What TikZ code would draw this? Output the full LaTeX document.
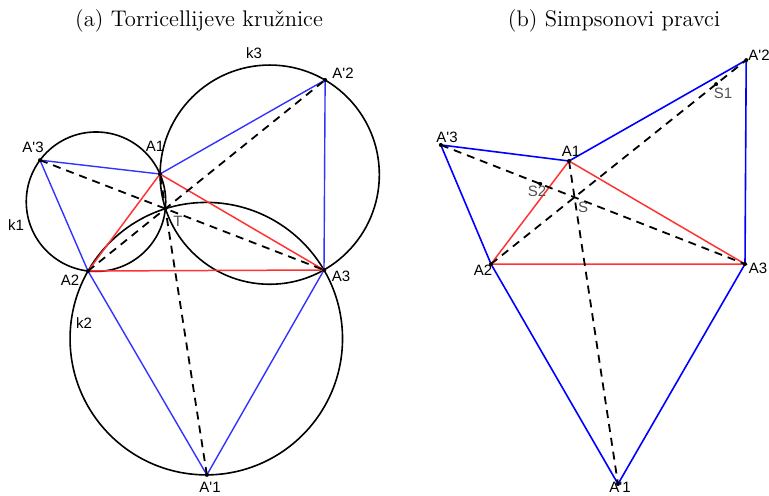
\documentclass[tikz,border=0pt]{standalone}
\usepackage{fontspec}
\newfontfamily\oznakefont{Liberation Sans}
\usetikzlibrary{calc}
\definecolor{Crvena}{HTML}{FF3333}
\definecolor{PlavaA}{HTML}{3333FF}
\definecolor{PlavaB}{HTML}{0000FF}
\definecolor{Siva}{HTML}{505050}
\tikzset{
    naslov/.style={font=\fontsize{11.3}{13}\selectfont, inner sep=0pt},
    oznaka/.style={font=\oznakefont\fontsize{7.5}{8}\selectfont, inner sep=0pt, text=black},
    sivaoznaka/.style={oznaka, text=Siva},
    krug/.style={draw=black, line width=0.8pt},
    stranica/.style={draw=Crvena, line width=0.75pt},
    plavaA/.style={draw=PlavaA, line width=0.7pt},
    plavaB/.style={draw=PlavaB, line width=0.8pt},
    pravac/.style={draw=black, line width=0.9pt, dash pattern=on 4pt off 3pt},
    tocka/.style={fill=black},
}

\begin{document}
\begin{tikzpicture}[x=0.5pt, y=0.5pt]
    \useasboundingbox (0,0) rectangle (769,495);

    % Naslovi
    \node[naslov] (naslovA) at (199,474) {(a) Torricellijeve kružnice};
    \node[naslov] (naslovB) at (614,474) {(b) Simpsonovi pravci};

    % (a) Trokut i vrhovi jednakostranicnih trokuta
    \coordinate (A1) at (160,321);
    \coordinate (A2) at (88,224);
    \coordinate (A3) at (324,225);
    \coordinate (A1p) at ($(A2)!1!-60:(A3)$);
    \coordinate (A2p) at ($(A1)!1!60:(A3)$);
    \coordinate (A3p) at ($(A2)!1!60:(A1)$);
    \coordinate (T) at (intersection of A2--A2p and A3--A3p);

    % Kruznice k1, k2, k3
    \coordinate (O1) at ($0.3333*(A1)+0.3333*(A2)+0.3334*(A3p)$);
    \coordinate (O2) at ($0.3333*(A2)+0.3333*(A3)+0.3334*(A1p)$);
    \coordinate (O3) at ($0.3333*(A1)+0.3333*(A3)+0.3334*(A2p)$);
    \draw[krug] let \p1=($(A1)-(O1)$), \n1={veclen(\x1,\y1)} in (O1) circle [radius=\n1];
    \draw[krug] let \p1=($(A2)-(O2)$), \n1={veclen(\x1,\y1)} in (O2) circle [radius=\n1];
    \draw[krug] let \p1=($(A3)-(O3)$), \n1={veclen(\x1,\y1)} in (O3) circle [radius=\n1];

    % Stranice
    \draw[plavaA] (A2) -- (A3p) -- (A1) -- (A2p) -- (A3) -- (A1p) -- (A2);
    \draw[stranica] (A1) -- (A2) -- (A3) -- cycle;
    \draw[pravac] (A3p) -- (A3);
    \draw[pravac] (A2) -- (A2p);
    \draw[pravac] (A1p) -- (A1);

    % Tocke
    \foreach \t in {A1,A2,A3,A1p,A2p,A3p,T}
        \fill[tocka] (\t) circle (2);

    \node[oznaka] (lA1) at (155,349) {A1};
    \node[oznaka] (lA2) at (70,215) {A2};
    \node[oznaka] (lA3) at (341,219) {A3};
    \node[oznaka] (lA1p) at (210,8) {A'1};
    \node[oznaka] (lA2p) at (343,422) {A'2};
    \node[oznaka] (lA3p) at (33,348) {A'3};
    \node[sivaoznaka] (lT) at (178,274) {T};
    \node[oznaka] (lk1) at (16,270) {k1};
    \node[oznaka] (lk2) at (84,172) {k2};
    \node[oznaka] (lk3) at (254,442) {k3};

    % (b) Simpsonovi pravci
    \coordinate (bA1) at (569,334);
    \coordinate (bA2) at (491,231);
    \coordinate (bA3) at (745,231);
    \coordinate (bA1p) at ($(bA2)!1!-60:(bA3)$);
    \coordinate (bA2p) at ($(bA1)!1!60:(bA3)$);
    \coordinate (bA3p) at ($(bA2)!1!60:(bA1)$);
    \coordinate (S) at (intersection of bA2--bA2p and bA3--bA3p);
    \coordinate (S1) at ($(bA2)!0.882!(bA2p)$);
    \coordinate (S2) at ($(bA3)!0.673!(bA3p)$);

    \draw[plavaB] (bA2) -- (bA3p) -- (bA1) -- (bA2p) -- (bA3) -- (bA1p) -- (bA2);
    \draw[stranica] (bA1) -- (bA2) -- (bA3) -- cycle;
    \draw[pravac] (bA3p) -- (bA3);
    \draw[pravac] (bA2) -- (bA2p);
    \draw[pravac] (bA1) -- (bA1p);

    \foreach \t in {bA1,bA2,bA3,bA1p,bA2p,bA3p,S1,S2}
        \fill[tocka] (\t) circle (2);
    \fill[tocka] (S) circle (1.2);

    \node[oznaka] (lbA1) at (571,344) {A1};
    \node[oznaka] (lbA2) at (483,225) {A2};
    \node[oznaka] (lbA3) at (758,227) {A3};
    \node[oznaka] (lbA1p) at (620,8) {A'1};
    \node[oznaka] (lbA2p) at (759,440) {A'2};
    \node[oznaka] (lbA3p) at (447,358) {A'3};
    \node[sivaoznaka] (lS) at (583,288) {S};
    \node[sivaoznaka] (lS1) at (723,402) {S1};
    \node[sivaoznaka] (lS2) at (537,304) {S2};
\end{tikzpicture}
\end{document}
